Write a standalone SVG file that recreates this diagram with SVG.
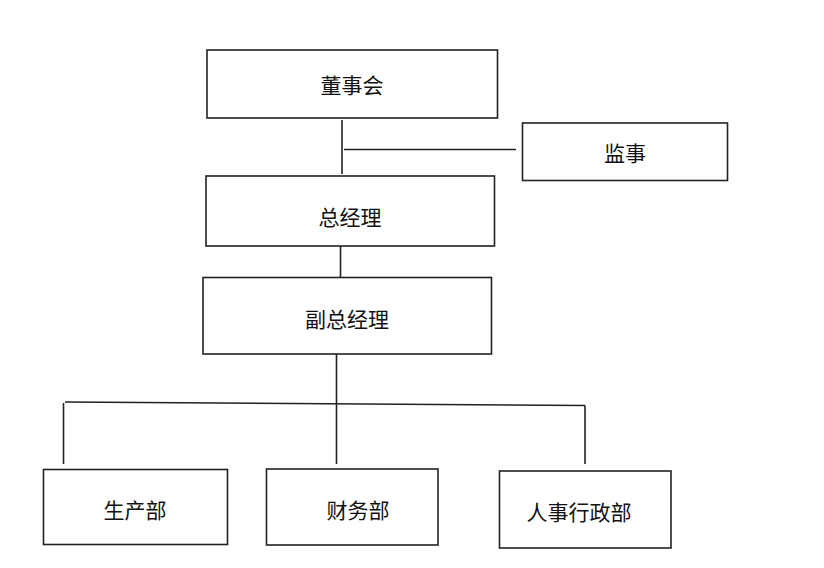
<svg xmlns="http://www.w3.org/2000/svg" width="824" height="568" viewBox="0 0 824 568">
<style>
.box{fill:#fff;stroke:#222;stroke-width:1.6}
.ln{fill:none;stroke:#222;stroke-width:1.6}
.t{font-family:"Microsoft YaHei","Noto Sans CJK SC","Noto Sans",sans-serif;font-size:21px;fill:#111;text-anchor:middle;dominant-baseline:central}
</style>
<rect width="824" height="568" fill="#fff"/>
<g id="connectors">
<line class="ln" x1="342" y1="120" x2="342" y2="174"/>
<line class="ln" x1="344" y1="149.5" x2="516" y2="149.5"/>
<line class="ln" x1="340.5" y1="246" x2="340.5" y2="277"/>
<line class="ln" x1="336.5" y1="354" x2="336.5" y2="464"/>
<line class="ln" x1="65" y1="402" x2="585" y2="405.5"/>
<line class="ln" x1="63.5" y1="403" x2="63.5" y2="464"/>
<line class="ln" x1="585" y1="405.5" x2="585" y2="464"/>
</g>
<g id="n1"><rect class="box" x="207" y="50" width="290.5" height="68"/><text class="t" x="352" y="84">董事会</text></g>
<g id="n2"><rect class="box" x="522.5" y="123" width="205" height="57.5"/><text class="t" x="625" y="152">监事</text></g>
<g id="n3"><rect class="box" x="206" y="176" width="288.5" height="70"/><text class="t" x="350" y="216">总经理</text></g>
<g id="n4"><rect class="box" x="203" y="277.5" width="288.5" height="76.5"/><text class="t" x="347" y="318">副总经理</text></g>
<g id="n5"><rect class="box" x="43.5" y="469.5" width="184" height="75"/><text class="t" x="135" y="509">生产部</text></g>
<g id="n6"><rect class="box" x="266.5" y="469" width="171.5" height="76"/><text class="t" x="358" y="509">财务部</text></g>
<g id="n7"><rect class="box" x="499.5" y="471" width="171.5" height="77"/><text class="t" x="579" y="511">人事行政部</text></g>
</svg>
